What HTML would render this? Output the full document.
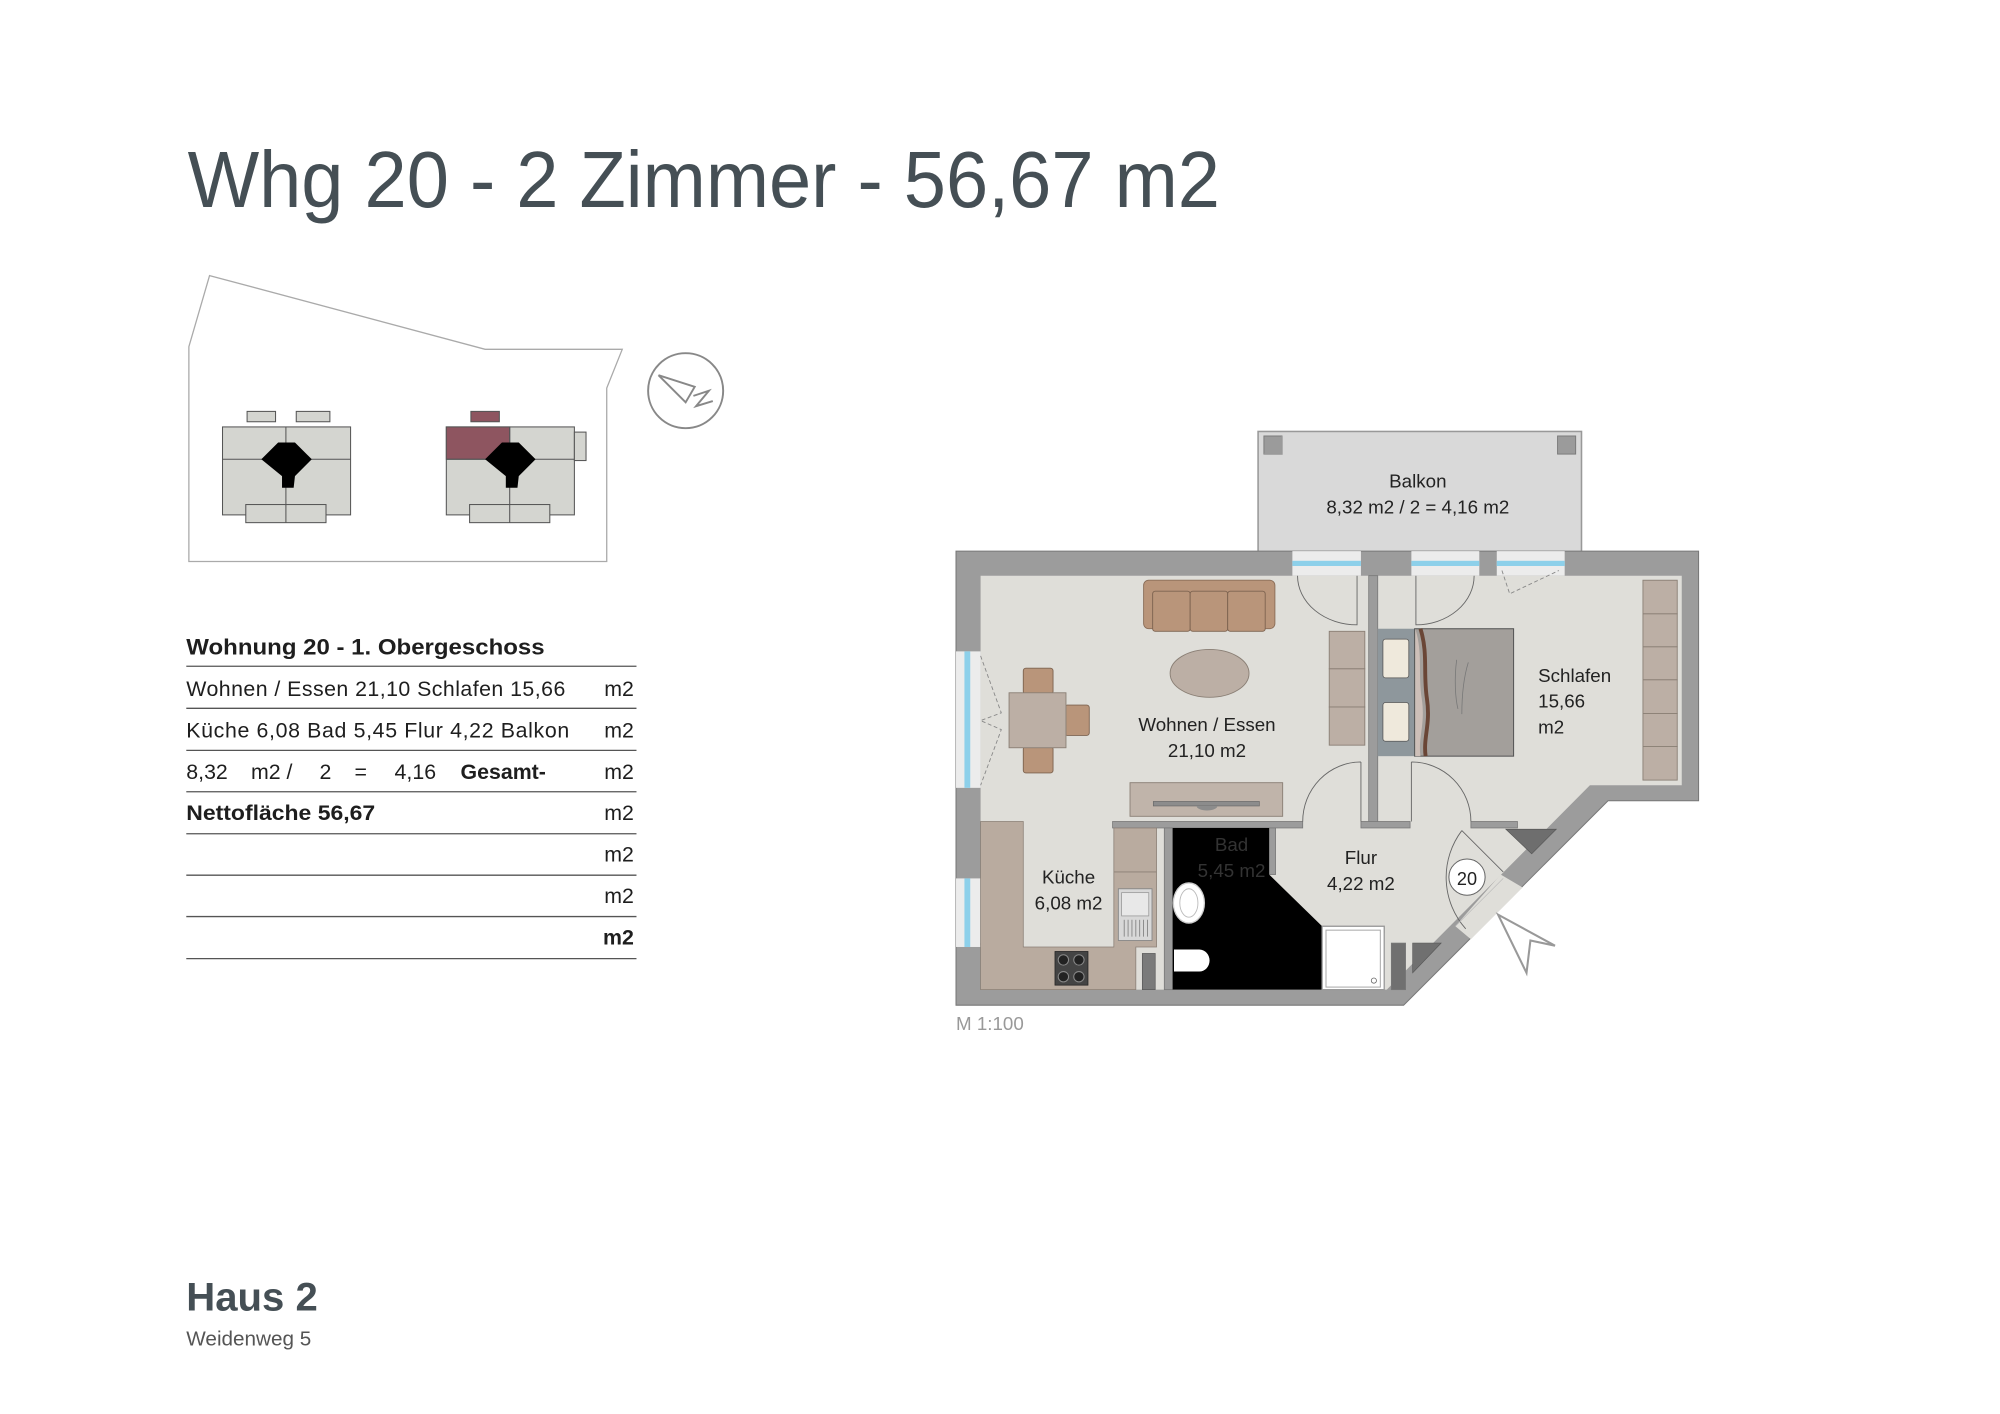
<!DOCTYPE html>
<html><head><meta charset="utf-8"><style>html,body{margin:0;padding:0;background:#fff}svg{display:block}</style></head>
<body>
<svg width="2000" height="1414" viewBox="0 0 1546 1093" xmlns="http://www.w3.org/2000/svg" font-family="'Liberation Sans', sans-serif">
<rect width="1546" height="1093" fill="#fff"/>
<!-- Title -->
<text x="145" y="160" font-size="62" fill="#454f55" textLength="798" lengthAdjust="spacingAndGlyphs">Whg 20 - 2 Zimmer - 56,67 m2</text>

<!-- Site plan -->
<polygon points="162,213 375,270 481,270 469,300 469,434 146,434 146,268" fill="none" stroke="#aaa" stroke-width="1"/>
<g stroke="#555" stroke-width="0.8" fill="#d4d5d0">
 <rect x="191" y="318" width="22" height="8"/><rect x="229" y="318" width="26" height="8"/>
 <rect x="172" y="330" width="99" height="68"/>
 <rect x="190" y="390" width="62" height="14"/>
 <line x1="221" y1="330" x2="221" y2="404"/><line x1="172" y1="355" x2="271" y2="355"/>
 <rect x="364" y="318" width="22" height="8" fill="#8e5560"/>
 <rect x="345" y="330" width="99" height="68"/>
 <rect x="345" y="330" width="49" height="25" fill="#8e5560"/>
 <rect x="444" y="334" width="9" height="22"/>
 <rect x="363" y="390" width="62" height="14"/>
 <line x1="394" y1="330" x2="394" y2="404"/><line x1="345" y1="355" x2="444" y2="355"/>
</g>
<polygon points="202,355 215,342 228,342 241,355 228,368 227,377 218,377 218,368" fill="#000"/>
<polygon points="375,355 388,342 401,342 414,355 401,368 400,377 391,377 391,368" fill="#000"/>
<!-- compass -->
<ellipse cx="530" cy="302" rx="29" ry="29" fill="none" stroke="#888" stroke-width="1.5"/>
<polyline points="509,290 537,299 530,311 509,290" fill="none" stroke="#888" stroke-width="1.5"/>
<polyline points="536,306 548,302 538,314 551,310" fill="none" stroke="#888" stroke-width="1.5"/>

<!-- Table -->
<g fill="#1e1e1e">
<text x="144" y="506" font-size="17.5" font-weight="bold" textLength="277" lengthAdjust="spacingAndGlyphs">Wohnung 20 - 1. Obergeschoss</text>
<text x="144" y="538" font-size="16.5" textLength="293" lengthAdjust="spacing">Wohnen / Essen 21,10 Schlafen 15,66</text>
<text x="144" y="570" font-size="16.5" textLength="296" lengthAdjust="spacing">Küche 6,08 Bad 5,45 Flur 4,22 Balkon</text>
<text x="144" y="602" font-size="16.5">8,32</text>
<text x="194" y="602" font-size="16.5">m2 /</text>
<text x="247" y="602" font-size="16.5">2</text>
<text x="274" y="602" font-size="16.5">=</text>
<text x="305" y="602" font-size="16.5">4,16</text>
<text x="356" y="602" font-size="16.5" font-weight="bold">Gesamt-</text>
<text x="144" y="634" font-size="16.5" font-weight="bold" textLength="146" lengthAdjust="spacingAndGlyphs">Nettofläche 56,67</text>
<g font-size="16.5" text-anchor="end">
<text x="490" y="538">m2</text><text x="490" y="570">m2</text><text x="490" y="602">m2</text><text x="490" y="634">m2</text>
<text x="490" y="666">m2</text><text x="490" y="698">m2</text><text x="490" y="730" font-weight="bold">m2</text>
</g>
</g>
<g stroke="#555" stroke-width="1">
<line x1="144" y1="515" x2="492" y2="515"/><line x1="144" y1="547.5" x2="492" y2="547.5"/><line x1="144" y1="580" x2="492" y2="580"/>
<line x1="144" y1="612" x2="492" y2="612"/><line x1="144" y1="644.5" x2="492" y2="644.5"/><line x1="144" y1="676.5" x2="492" y2="676.5"/>
<line x1="144" y1="708.5" x2="492" y2="708.5"/><line x1="144" y1="741" x2="492" y2="741"/>
</g>

<!-- Haus -->
<text x="144" y="1013" font-size="31" font-weight="bold" fill="#454f55">Haus 2</text>
<text x="144" y="1040" font-size="16" fill="#555">Weidenweg 5</text>

<!-- FLOOR PLAN -->
<!-- balcony -->
<rect x="972.5" y="333.5" width="250" height="93" fill="#d9d9d9" stroke="#999" stroke-width="1.2"/>
<rect x="977" y="337" width="14" height="14" fill="#9b9b9b" stroke="#777" stroke-width="0.7"/>
<rect x="1204" y="337" width="14" height="14" fill="#9b9b9b" stroke="#777" stroke-width="0.7"/>
<polyline points="977,351 991,351 991,337" fill="none" stroke="#999"/>
<text x="1096" y="377" font-size="14.5" fill="#222" text-anchor="middle">Balkon</text>
<text x="1096" y="397" font-size="14.5" fill="#222" text-anchor="middle">8,32 m2 / 2 = 4,16 m2</text>

<!-- outer wall -->
<polygon points="739,426 1313,426 1313,619 1243,619 1085,777 739,777" fill="#9c9c9c" stroke="#777" stroke-width="0.8"/>
<!-- interior -->
<polygon points="758,445 1300,445 1300,607 1229,607 1072,765 758,765" fill="#dfded9"/>
<!-- entrance gap -->
<polygon points="1160,676 1177,686 1137,726 1125,716" fill="#dfded9"/>

<!-- windows top -->
<g>
<rect x="999" y="426" width="53" height="19" fill="#ececec"/><rect x="999" y="433.5" width="53" height="4" fill="#8dd0ea"/>
<rect x="1091" y="426" width="52.5" height="19" fill="#ececec"/><rect x="1091" y="433.5" width="52.5" height="4" fill="#8dd0ea"/>
<rect x="1157" y="426" width="52.5" height="19" fill="#ececec"/><rect x="1157" y="433.5" width="52.5" height="4" fill="#8dd0ea"/>
<rect x="739" y="503.5" width="19" height="105.5" fill="#ececec"/><rect x="745.5" y="503.5" width="4.5" height="105.5" fill="#8dd0ea"/>
<rect x="739" y="679" width="19" height="53" fill="#ececec"/><rect x="745.5" y="679" width="4.5" height="53" fill="#8dd0ea"/>
</g>
<!-- dashed window opening lines -->
<g fill="none" stroke="#888" stroke-width="0.7" stroke-dasharray="3,2">
<polyline points="758,507 774,551 758,557 774,564 758,607"/>
<polyline points="758,682 774,687 758,730"/>
<polyline points="1161,441 1167,459 1205,441"/>
</g>

<!-- interior walls -->
<g fill="#9c9c9c" stroke="#777" stroke-width="0.6">
<rect x="1058" y="445" width="7" height="192"/>
<rect x="860" y="635" width="147" height="5"/>
<rect x="1052" y="635" width="38" height="5"/>
<rect x="1137" y="635" width="36" height="5"/>
<rect x="900" y="640" width="6.5" height="125"/>
<rect x="981" y="640" width="5" height="36"/>
<polygon points="1018,716 1070,716 1070,721 1022,721"/>
<rect x="1075.5" y="729" width="11" height="36" fill="#707070"/>
</g>
<polygon points="1092,729 1114,729 1092,752" fill="#707070" stroke="#555" stroke-width="0.5"/>
<polygon points="1164,641 1203,641 1184,660" fill="#6e6e6e" stroke="#555" stroke-width="0.5"/>

<!-- Bad -->
<polygon points="906.5,640 981,640 981,676 1022,716 1022,765 906.5,765" fill="#000"/>
<rect x="1022" y="716" width="48" height="49" fill="#fff" stroke="#999" stroke-width="1"/>
<rect x="1025" y="719" width="42" height="44" fill="none" stroke="#aaa" stroke-width="0.8"/>
<circle cx="1062" cy="758" r="2" fill="none" stroke="#666" stroke-width="0.6"/>
<ellipse cx="919" cy="698" rx="12" ry="15.5" fill="#fff" stroke="#ccc"/>
<ellipse cx="919" cy="698" rx="7" ry="11" fill="none" stroke="#bbb" stroke-width="0.7"/>
<path d="M907.5,734 H927 A8,8.5 0 0 1 927,751 H907.5 Z" fill="#fff"/>
<text x="952" y="658" font-size="14.5" fill="#333" text-anchor="middle">Bad</text>
<text x="952" y="678" font-size="14.5" fill="#333" text-anchor="middle">5,45 m2</text>

<!-- Küche -->
<g fill="#b9ab9f" stroke="#8a7f75" stroke-width="0.6">
<polygon points="758,635 791,635 791,732 861,732 861,640 894,640 894,732 878,732 878,765 758,765"/>
<line x1="861" y1="674" x2="894" y2="674"/>
</g>
<rect x="883" y="737" width="10" height="28" fill="#7a7a7a" stroke="#555" stroke-width="0.5"/>
<rect x="815.5" y="735.5" width="25.5" height="26" fill="#444" stroke="#222" stroke-width="0.6"/>
<g fill="#222" stroke="#888" stroke-width="0.8"><circle cx="822" cy="742" r="4"/><circle cx="834" cy="742" r="4"/><circle cx="822" cy="755" r="4"/><circle cx="834" cy="755" r="4"/></g>
<rect x="864.5" y="687" width="26" height="40" fill="#d8d8d8" stroke="#888" stroke-width="0.7"/>
<rect x="867" y="690" width="21" height="18" fill="#e8e8e8" stroke="#999" stroke-width="0.6"/>
<g stroke="#777" stroke-width="0.6"><line x1="869" y1="711" x2="869" y2="724"/><line x1="872" y1="711" x2="872" y2="724"/><line x1="875" y1="711" x2="875" y2="724"/><line x1="878" y1="711" x2="878" y2="724"/><line x1="881" y1="711" x2="881" y2="724"/><line x1="884" y1="711" x2="884" y2="724"/><line x1="887" y1="711" x2="887" y2="724"/></g>
<text x="826" y="683" font-size="14.5" fill="#222" text-anchor="middle">Küche</text>
<text x="826" y="703" font-size="14.5" fill="#222" text-anchor="middle">6,08 m2</text>

<!-- Living furniture -->
<rect x="884" y="448.5" width="101.5" height="37.5" rx="4" fill="#b9957a" stroke="#8a6d58" stroke-width="0.7"/>
<g fill="#b9957a" stroke="#7d6350" stroke-width="0.7">
<rect x="891" y="457" width="29" height="31" rx="2"/><rect x="920" y="457" width="29" height="31" rx="2"/><rect x="949" y="457" width="29" height="31" rx="2"/>
</g>
<ellipse cx="935" cy="520.5" rx="30.5" ry="18.5" fill="#bcafa5" stroke="#8a7f75" stroke-width="0.7"/>
<g fill="#bcafa5" stroke="#8a7f75" stroke-width="0.7">
<rect x="1027.5" y="488" width="27.5" height="29"/><rect x="1027.5" y="517" width="27.5" height="29.5"/><rect x="1027.5" y="546.5" width="27.5" height="29.5"/>
</g>
<g fill="#b9957a" stroke="#7d6350" stroke-width="0.7">
<rect x="791" y="516.5" width="23" height="20" rx="2"/>
<rect x="791" y="577" width="23" height="20.5" rx="2"/>
<rect x="823" y="545" width="19" height="23.5" rx="2"/>
</g>
<rect x="780" y="535.5" width="44" height="42.5" fill="#bcafa5" stroke="#8a7f75" stroke-width="0.7"/>
<text x="933" y="565" font-size="14.5" fill="#222" text-anchor="middle">Wohnen / Essen</text>
<text x="933" y="585" font-size="14.5" fill="#222" text-anchor="middle">21,10 m2</text>
<rect x="873.5" y="605" width="118" height="26" fill="#c0b4aa" stroke="#8a7f75" stroke-width="0.7"/>
<rect x="891.5" y="619.5" width="82" height="3.5" fill="#8c8c8c" stroke="#666" stroke-width="0.5"/>
<path d="M925,623 A8,3.5 0 0 0 941,623 Z" fill="#8c8c8c"/>

<!-- Bedroom -->
<rect x="1065" y="486" width="28.5" height="98.5" fill="#8e979c"/>
<g fill="#efe9dc" stroke="#555" stroke-width="0.6">
<rect x="1069" y="494" width="20" height="30" rx="2"/><rect x="1069" y="543" width="20" height="30" rx="2"/>
</g>
<rect x="1093.5" y="486" width="76.5" height="98.5" fill="#a39f9b" stroke="#555" stroke-width="0.8"/>
<path d="M1094,486 C1100,505 1096,520 1099,540 C1102,560 1096,570 1098,584.5 L1094,584.5 Z" fill="#cdbfb8"/>
<path d="M1098,486 C1104,505 1100,520 1103,540 C1106,560 1100,570 1102,584.5" fill="none" stroke="#6a4636" stroke-width="3"/>
<path d="M1126,510 C1124,525 1125,540 1127,548 M1135,512 C1131,525 1130,540 1130,552" fill="none" stroke="#777" stroke-width="0.6"/>
<g fill="#bcafa5" stroke="#8a7f75" stroke-width="0.7">
<rect x="1270" y="448.5" width="26.5" height="26"/><rect x="1270" y="474.5" width="26.5" height="25.5"/><rect x="1270" y="500" width="26.5" height="25.5"/>
<rect x="1270" y="525.5" width="26.5" height="26"/><rect x="1270" y="551.5" width="26.5" height="25.5"/><rect x="1270" y="577" width="26.5" height="26"/>
</g>
<text x="1189" y="527" font-size="14.5" fill="#222">Schlafen</text>
<text x="1189" y="547" font-size="14.5" fill="#222">15,66</text>
<text x="1189" y="567" font-size="14.5" fill="#222">m2</text>

<!-- doors -->
<g fill="none" stroke="#666" stroke-width="0.7">
<path d="M1049,445 L1049,483 A46,38 0 0 1 1003,445"/>
<path d="M1094.5,445 L1094.5,483 A45,38 0 0 0 1139.5,445"/>
<path d="M1052,589 L1052,635 M1052,589 A45,46 0 0 0 1007,635"/>
<path d="M1091,589 L1091,635 M1091,589 A46,46 0 0 1 1137,635"/>
<path d="M1130,642 L1162,674 M1130,642 A60,60 0 0 0 1133,718"/>
</g>
<line x1="1125" y1="716" x2="1162" y2="679" stroke="#bbb" stroke-width="0.5"/>
<circle cx="1134" cy="678" r="14" fill="#fff" stroke="#666" stroke-width="0.8"/>
<text x="1134" y="684" font-size="14" fill="#222" text-anchor="middle">20</text>
<polygon points="1158,707 1202,731 1183,727 1180,752" fill="#fff" stroke="#999" stroke-width="1.6"/>
<text x="1052" y="668" font-size="14.5" fill="#222" text-anchor="middle">Flur</text>
<text x="1052" y="688" font-size="14.5" fill="#222" text-anchor="middle">4,22 m2</text>

<text x="739" y="796" font-size="14.5" fill="#999">M 1:100</text>
</svg>
</body></html>
